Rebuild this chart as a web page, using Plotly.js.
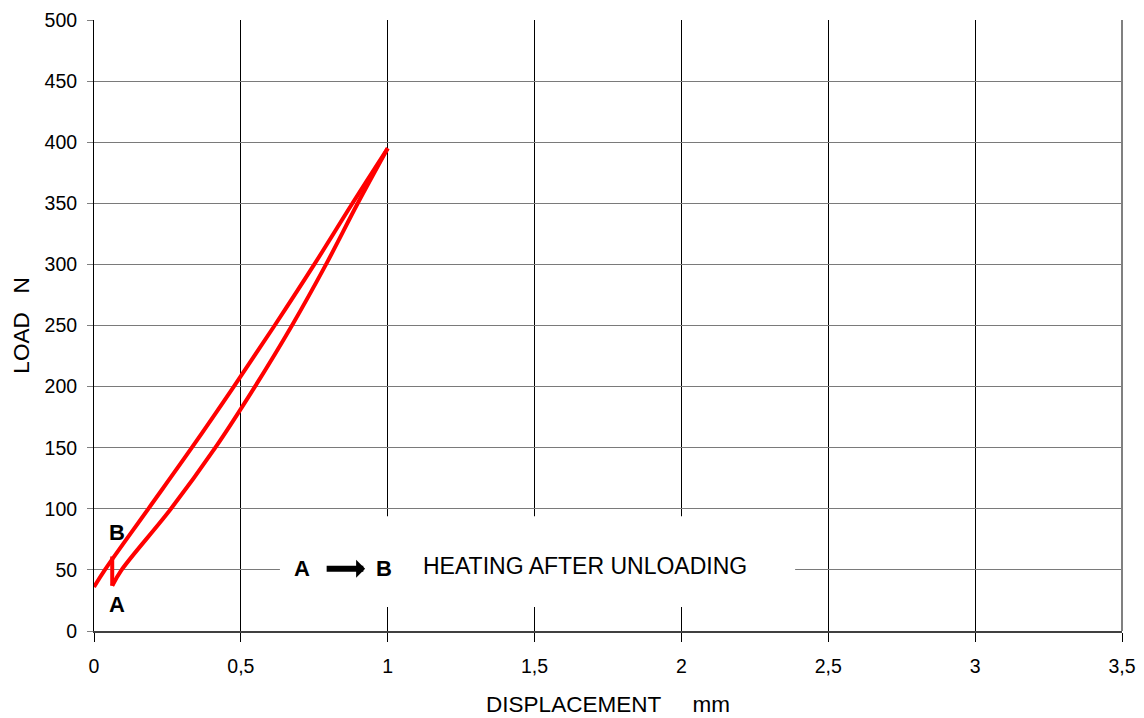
<!DOCTYPE html>
<html>
<head>
<meta charset="utf-8">
<script src="https://cdn.plot.ly/plotly-3.0.1.min.js"></script>
<style>html,body{margin:0;padding:0;background:#fff;}#chart{width:1144px;height:718px;}</style>
</head>
<body>
<div id="chart"></div>
<script>
// Loading branch (upper line), unloading branch (lower curve), heating A -> B
const upperDisp = [0, 0.037, 0.185, 0.333, 0.476, 0.615, 0.75, 0.88, 1.0];
const upperLoad = [36, 50, 100, 150, 200, 250, 300, 350, 395];
const lowerDisp = [1.0, 0.898, 0.79, 0.674, 0.548, 0.413, 0.262, 0.094, 0.062];
const lowerLoad = [395, 350, 300, 250, 200, 150, 100, 50, 37];
const heatDisp = [0.062, 0.062];
const heatLoad = [37, 61];

const xTickVals = [0, 0.5, 1, 1.5, 2, 2.5, 3, 3.5];
const xTickText = ['0', '0,5', '1', '1,5', '2', '2,5', '3', '3,5'];
const yTickVals = [0, 50, 100, 150, 200, 250, 300, 350, 400, 450, 500];

const pointA = {x: 0.078, y: 22, label: 'A'};
const pointB = {x: 0.078, y: 81, label: 'B'};

const FONT = 'Liberation Sans, Arial, sans-serif';
const RED = '#ff0000';

function branch(xs, ys, shape) {
  return {
    x: xs, y: ys, mode: 'lines',
    line: {color: RED, width: 4, shape: shape, smoothing: 1},
    hoverinfo: 'skip', showlegend: false
  };
}

const traces = [
  branch(upperDisp, upperLoad, 'spline'),
  branch(lowerDisp, lowerLoad, 'spline'),
  branch(heatDisp, heatLoad, 'linear')
];

const layout = {
  width: 1144,
  height: 718,
  margin: {l: 94, r: 22, t: 20, b: 87},
  paper_bgcolor: '#ffffff',
  plot_bgcolor: '#ffffff',
  font: {family: FONT, color: '#000', size: 19},
  xaxis: {
    range: [0, 3.5],
    tickvals: xTickVals,
    ticktext: xTickText,
    ticks: 'outside',
    ticklen: 9,
    tickcolor: '#000',
    tickwidth: 1,
    showgrid: true,
    gridcolor: '#000000',
    gridwidth: 1,
    showline: true,
    linecolor: '#404040',
    linewidth: 2,
    zeroline: false,
    tickfont: {size: 19.5, family: FONT},
    ticklabelstandoff: 8,
    title: {text: 'DISPLACEMENT\u00a0\u00a0\u00a0\u00a0\u00a0mm', font: {size: 22.5, family: FONT}, standoff: 20},
    fixedrange: true
  },
  yaxis: {
    range: [0, 500],
    tickvals: yTickVals,
    ticks: 'outside',
    ticklen: 6,
    tickcolor: '#808080',
    tickwidth: 1,
    showgrid: true,
    gridcolor: '#7a7a7a',
    gridwidth: 1,
    showline: true,
    linecolor: '#000000',
    linewidth: 1,
    zeroline: false,
    tickfont: {size: 19.5, family: FONT},
    ticklabelstandoff: 6,
    title: {text: 'LOAD\u00a0\u00a0\u00a0N', font: {size: 22.5, family: FONT}, standoff: 8},
    fixedrange: true
  },
  shapes: [
    {type: 'line', xref: 'paper', yref: 'paper', x0: 1, x1: 1, y0: 0, y1: 1,
     line: {color: '#808080', width: 2}, layer: 'above'},
    {type: 'rect', xref: 'x', yref: 'y', x0: 0.633, x1: 2.387, y0: 19.6, y1: 94,
     fillcolor: '#ffffff', line: {width: 0}, layer: 'above'}
  ],
  annotations: [
    {x: pointA.x, y: pointA.y, xref: 'x', yref: 'y', text: '<b>' + pointA.label + '</b>',
     showarrow: false, font: {size: 22, family: FONT}},
    {x: pointB.x, y: pointB.y, xref: 'x', yref: 'y', text: '<b>' + pointB.label + '</b>',
     showarrow: false, font: {size: 22, family: FONT}},
    {x: 0.708, y: 51, xref: 'x', yref: 'y', text: '<b>A</b>',
     showarrow: false, font: {size: 22, family: FONT}},
    {x: 0.987, y: 51, xref: 'x', yref: 'y', text: '<b>B</b>',
     showarrow: false, font: {size: 22, family: FONT}},
    {x: 0.923, y: 51, xref: 'x', yref: 'y', ax: 0.787, ay: 51, axref: 'x', ayref: 'y',
     text: '', showarrow: true, arrowhead: 1, arrowsize: 0.5, arrowwidth: 6, arrowcolor: '#000',
     standoff: 0, startstandoff: 0},
    {x: 1.673, y: 53, xref: 'x', yref: 'y', text: 'HEATING AFTER UNLOADING',
     showarrow: false, font: {size: 23, family: FONT}}
  ]
};

Plotly.newPlot('chart', traces, layout, {displayModeBar: false, staticPlot: true});
</script>
</body>
</html>
